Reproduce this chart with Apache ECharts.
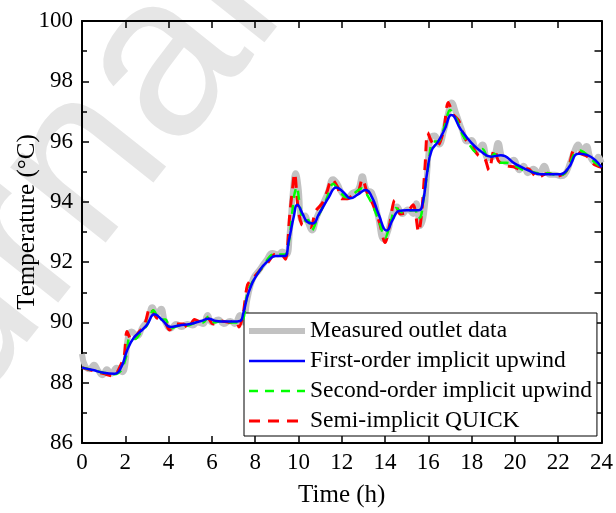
<!DOCTYPE html>
<html>
<head>
<meta charset="utf-8">
<script src="https://cdn.jsdelivr.net/npm/echarts@6/dist/echarts.min.js"></script>
<style>
  html, body { margin: 0; padding: 0; background: #fff; }
  #chart { width: 616px; height: 513px; }
</style>
</head>
<body>
<div id="chart"></div>
<script>
// Outlet temperature over one day: measurement vs. three discretisation schemes
const seriesNames = [
  'Measured outlet data',
  'First-order implicit upwind',
  'Second-order implicit upwind',
  'Semi-implicit QUICK'
];

// [time (h), temperature (°C)]
const measured = [
  [0,88.95],[0.15,88.55],[0.35,88.45],[0.55,88.6],[0.75,88.4],[0.95,88.25],[1.15,88.45],[1.35,88.3],
  [1.6,88.5],[1.85,88.35],[2.0,88.6],[2.12,89.5],[2.3,89.7],[2.55,89.55],[2.8,89.85],[3.05,90.1],
  [3.25,90.5],[3.45,90.3],[3.65,90.45],[3.85,90.0],[4.1,89.8],[4.35,89.95],[4.6,89.85],[4.85,89.95],
  [5.1,89.9],[5.35,90.0],[5.6,89.95],[5.8,90.25],[6.0,90.0],[6.3,90.1],[6.55,89.95],[6.85,90.05],
  [7.05,89.95],[7.3,90.25],[7.45,90.0],[7.65,90.8],[7.9,91.45],[8.2,91.75],[8.5,92.05],[8.8,92.3],
  [9.05,92.25],[9.25,92.35],[9.45,92.25],[9.6,93.0],[9.75,94.4],[9.87,94.95],[10.0,94.5],[10.15,93.4],
  [10.3,93.55],[10.45,93.3],[10.62,93.05],[10.85,93.5],[11.1,93.9],[11.35,94.3],[11.6,94.75],[11.8,94.6],
  [12.0,94.3],[12.25,94.15],[12.5,94.3],[12.75,94.4],[12.95,94.85],[13.15,94.4],[13.4,94.3],[13.65,93.6],
  [13.95,92.75],[14.15,93.05],[14.35,93.65],[14.55,93.85],[14.8,93.6],[15.05,93.75],[15.3,93.6],[15.45,93.95],
  [15.62,93.2],[15.8,93.6],[15.95,95.0],[16.1,96.1],[16.3,96.2],[16.5,95.9],[16.72,96.35],[16.9,96.9],
  [17.07,97.3],[17.3,96.9],[17.55,96.4],[17.8,96.0],[18.0,96.05],[18.25,95.7],[18.5,95.9],[18.75,95.45],
  [19.0,95.5],[19.22,95.95],[19.45,95.4],[19.68,95.3],[19.95,95.4],[20.2,95.05],[20.4,95.2],[20.6,94.95],
  [20.85,95.1],[21.1,94.95],[21.36,95.2],[21.6,94.9],[21.85,94.9],[22.1,94.85],[22.3,94.9],[22.55,95.3],
  [22.75,95.7],[22.92,95.9],[23.1,95.7],[23.3,95.85],[23.5,95.45],[23.7,95.3],[23.85,95.5],[24,95.3]
];

const firstOrder = [
  [0,88.5],[0.5,88.42],[1.0,88.33],[1.5,88.3],[1.8,88.5],[2.1,89.1],[2.4,89.5],[2.7,89.7],[3.0,89.92],
  [3.35,90.27],[3.7,90.08],[4.1,89.85],[4.5,89.9],[5.0,89.95],[5.5,90.05],[5.85,90.12],[6.2,90.05],
  [6.6,90.03],[7.0,90.03],[7.3,90.05],[7.45,90.3],[7.7,91.0],[8.1,91.6],[8.6,92.05],[8.95,92.2],
  [9.35,92.2],[9.55,92.7],[9.78,93.5],[9.95,93.9],[10.18,93.62],[10.4,93.34],[10.65,93.28],[10.95,93.6],
  [11.4,94.15],[11.75,94.48],[12.1,94.3],[12.4,94.12],[12.75,94.25],[13.1,94.39],[13.4,94.15],[13.7,93.6],
  [14.08,93.05],[14.35,93.4],[14.65,93.7],[15.0,93.72],[15.55,93.72],[15.75,94.0],[15.95,95.0],[16.15,95.7],
  [16.45,96.0],[16.75,96.4],[17.07,96.88],[17.5,96.4],[18.0,95.95],[18.45,95.66],[18.9,95.5],[19.35,95.55],
  [20.0,95.27],[20.75,95.0],[21.2,94.92],[22.1,94.92],[22.45,95.1],[22.95,95.6],[23.35,95.55],[24,95.15]
];

const secondOrder = [
  [0,88.5],[0.5,88.42],[1.0,88.33],[1.5,88.28],[1.8,88.4],[2.05,88.9],[2.2,89.5],[2.45,89.45],[2.75,89.7],
  [3.0,89.9],[3.3,90.4],[3.6,90.1],[3.85,90.1],[4.1,89.8],[4.5,89.9],[4.9,89.9],[5.3,90.0],[5.6,90.0],
  [5.85,90.2],[6.1,90.0],[6.5,90.05],[6.9,90.0],[7.25,90.0],[7.45,90.1],[7.65,91.0],[8.0,91.5],[8.4,91.9],
  [8.8,92.25],[9.1,92.25],[9.4,92.25],[9.6,92.9],[9.8,94.2],[9.92,94.5],[10.08,93.8],[10.25,93.35],
  [10.45,93.4],[10.62,93.05],[10.9,93.5],[11.3,94.1],[11.6,94.6],[11.9,94.35],[12.2,94.15],[12.5,94.25],
  [12.95,94.45],[13.2,94.2],[13.45,93.85],[13.75,93.3],[14.0,92.8],[14.25,93.3],[14.5,93.8],[14.8,93.65],
  [15.1,93.7],[15.4,93.73],[15.5,93.45],[15.65,93.5],[15.8,94.2],[16.0,95.2],[16.2,96.0],[16.45,96.0],
  [16.75,96.5],[17.0,97.05],[17.3,96.75],[17.6,96.2],[17.9,95.9],[18.2,95.65],[18.5,95.75],[18.8,95.4],
  [19.05,95.6],[19.3,95.3],[19.6,95.3],[20.0,95.2],[20.4,95.05],[20.75,95.0],[21.1,94.95],[21.5,94.95],
  [21.9,94.9],[22.2,94.9],[22.45,95.1],[22.75,95.6],[23.0,95.7],[23.35,95.55],[23.7,95.3],[24,95.15]
];

const quick = [
  [0,88.5],[0.5,88.4],[1.0,88.3],[1.45,88.22],[1.7,88.45],[1.95,88.9],[2.08,89.7],[2.3,89.4],[2.6,89.65],
  [2.9,89.95],[3.15,90.5],[3.45,90.15],[3.8,90.05],[4.05,89.75],[4.35,89.95],[4.7,89.95],[4.9,89.8],
  [5.2,90.1],[5.5,90.0],[5.8,90.15],[6.05,89.95],[6.4,90.05],[6.8,90.0],[7.1,90.05],[7.25,89.85],[7.45,90.3],
  [7.65,91.25],[7.95,91.5],[8.3,91.8],[8.6,92.0],[8.9,92.25],[9.2,92.25],[9.4,92.1],[9.6,93.6],[9.72,94.4],
  [9.82,94.95],[9.98,93.8],[10.15,93.25],[10.35,93.2],[10.55,93.15],[10.8,93.7],[11.1,93.95],[11.3,94.3],
  [11.55,94.75],[11.8,94.5],[12.0,94.1],[12.25,94.1],[12.55,94.25],[12.75,94.3],[12.95,94.75],[13.2,94.25],
  [13.45,93.9],[13.75,93.3],[14.0,92.65],[14.2,93.2],[14.45,94.05],[14.7,93.6],[15.0,93.65],[15.3,93.9],
  [15.55,93.0],[15.7,93.7],[15.85,95.2],[15.97,96.3],[16.15,96.0],[16.4,95.85],[16.7,96.35],[16.92,97.3],
  [17.15,96.9],[17.4,96.7],[17.7,96.1],[18.0,95.85],[18.3,95.55],[18.6,95.45],[18.8,95.05],[19.05,95.75],
  [19.25,95.35],[19.6,95.2],[20.0,95.15],[20.3,95.05],[20.6,95.1],[21.05,94.8],[21.5,94.95],[21.95,94.85],
  [22.3,94.95],[22.5,95.2],[22.75,95.75],[23.05,95.6],[23.35,95.5],[23.65,95.25],[24,95.15]
];

const xRange = [0, 24];
const yRange = [86, 100];

const FONT = "'Times New Roman', 'Liberation Serif', serif";
const BLACK = '#000';
const COLORS = { measured: '#c2c2c2', first: '#0000ff', second: '#00ff00', quick: '#ff0000' };

const chart = echarts.init(document.getElementById('chart'), null, { renderer: 'canvas' });

const frameAxis = {
  axisLine: { show: true, onZero: false, lineStyle: { color: BLACK, width: 2 } },
  splitLine: { show: false }
};
const tickStyle = { color: BLACK, width: 1.5 };

chart.setOption({
  animation: false,
  backgroundColor: '#fff',
  grid: { left: 82, top: 21, width: 522, height: 422, containLabel: false },
  graphic: [{
    type: 'text',
    silent: true,
    z: -10,
    x: -232, y: 566,
    rotation: 0.9,
    style: {
      text: 'Journal Pre-proof',
      font: "230px 'Liberation Sans', Arial, sans-serif",
      fill: '#e6e6e6',
      textAlign: 'left',
      textVerticalAlign: 'middle'
    }
  }],
  legend: {
    orient: 'vertical',
    left: 244, top: 313,
    padding: [6, 5, 3, 2],
    itemGap: 6,
    itemWidth: 56,
    itemHeight: 14,
    backgroundColor: '#fff',
    borderColor: BLACK,
    borderWidth: 1,
    borderRadius: 0,
    itemStyle: { opacity: 0 },
    data: [
      { name: seriesNames[0], lineStyle: { width: 6 } },
      { name: seriesNames[1], lineStyle: { width: 2.5 } },
      { name: seriesNames[2], lineStyle: { width: 2.5 } },
      { name: seriesNames[3], lineStyle: { width: 3 } }
    ],
    textStyle: { fontFamily: FONT, fontSize: 23.5, color: BLACK, lineHeight: 23.5 }
  },
  xAxis: [{
    ...frameAxis,
    type: 'value', position: 'bottom',
    min: xRange[0], max: xRange[1], interval: 2,
    name: 'Time (h)', nameLocation: 'middle', nameGap: 40, nameMoveOverlap: false,
    nameTextStyle: { fontFamily: FONT, fontSize: 25, color: BLACK },
    axisTick: { show: true, inside: true, length: 7, lineStyle: tickStyle },
    axisLabel: { fontFamily: FONT, fontSize: 23, color: BLACK, margin: 8 }
  }, {
    ...frameAxis,
    type: 'value', position: 'top',
    min: xRange[0], max: xRange[1], interval: 2,
    axisTick: { show: true, inside: true, length: 7, lineStyle: tickStyle },
    axisLabel: { show: false }
  }],
  yAxis: [{
    ...frameAxis,
    type: 'value', position: 'left',
    min: yRange[0], max: yRange[1], interval: 2,
    name: 'Temperature (°C)', nameLocation: 'middle', nameGap: 42, nameMoveOverlap: false,
    nameTextStyle: { fontFamily: FONT, fontSize: 25, color: BLACK, padding: [0, 0, 0, 20] },
    axisTick: { show: true, inside: true, length: 7, lineStyle: tickStyle },
    minorTick: { show: true, splitNumber: 2, length: 5, lineStyle: tickStyle },
    axisLabel: { fontFamily: FONT, fontSize: 23, color: BLACK, margin: 9 }
  }, {
    ...frameAxis,
    type: 'value', position: 'right',
    min: yRange[0], max: yRange[1], interval: 2,
    axisTick: { show: true, inside: true, length: 7, lineStyle: tickStyle },
    minorTick: { show: true, splitNumber: 2, length: 7, lineStyle: tickStyle },
    axisLabel: { show: false }
  }],
  series: [{
    name: seriesNames[0], type: 'line', data: measured,
    symbol: 'none', smooth: 0.5, z: 2,
    lineStyle: { color: COLORS.measured, width: 6 },
    itemStyle: { color: COLORS.measured }
  }, {
    name: seriesNames[3], type: 'line', data: quick,
    symbol: 'none', smooth: 0.3, z: 3,
    lineStyle: { color: COLORS.quick, width: 3, type: [11, 8] },
    itemStyle: { color: COLORS.quick }
  }, {
    name: seriesNames[2], type: 'line', data: secondOrder,
    symbol: 'none', smooth: 0.3, z: 4,
    lineStyle: { color: COLORS.second, width: 2.5, type: [9, 7] },
    itemStyle: { color: COLORS.second }
  }, {
    name: seriesNames[1], type: 'line', data: firstOrder,
    symbol: 'none', smooth: 0.5, z: 5,
    lineStyle: { color: COLORS.first, width: 2.5 },
    itemStyle: { color: COLORS.first }
  }]
});
</script>
</body>
</html>
